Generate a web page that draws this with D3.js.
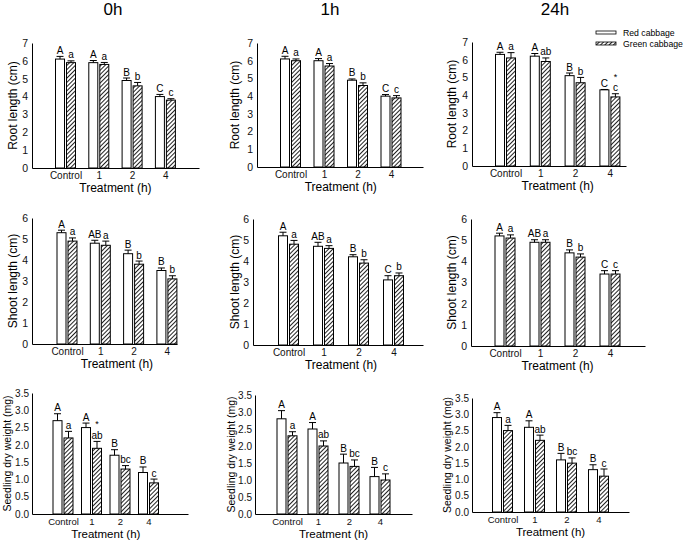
<!DOCTYPE html>
<html>
<head>
<meta charset="utf-8">
<script src="https://cdn.jsdelivr.net/npm/d3@7"></script>
<style>
  body { margin: 0; background: #fff; }
  text { font-family: "Liberation Sans", Arial, sans-serif; }
</style>
</head>
<body>
<div id="chart"></div>
<script>
// data

const categories = ["Control", "1", "2", "4"];
const times = ["0h", "1h", "24h"];
const seriesNames = ["Red cabbage", "Green cabbage"];
const yTitles = ["Root length (cm)", "Shoot length (cm)", "Seedling dry weight (mg)"];
const yMax = [7, 6, 3.5];
const yStep = [1, 1, 0.5];

// one inner array per time: 0h, 1h, 24h
const rootRed = [[6.1, 5.9, 4.9, 4.0], [6.1, 6.0, 4.9, 4.0], [6.3, 6.2, 5.1, 4.3]];
const rootRedErr = [[0.15, 0.12, 0.14, 0.12], [0.15, 0.12, 0.07, 0.09], [0.12, 0.15, 0.15, 0.02]];
const rootGreen = [[5.9, 5.8, 4.6, 3.8], [6.0, 5.7, 4.6, 3.9], [6.1, 5.9, 4.7, 3.9]];
const rootGreenErr = [[0.1, 0.11, 0.19, 0.08], [0.1, 0.14, 0.15, 0.13], [0.3, 0.2, 0.3, 0.18]];
const rootRedLetters = [["A", "A", "B", "C"], ["A", "A", "B", "C"], ["A", "A", "B", "C"]];
const rootGreenLetters = [["a", "a", "b", "c"], ["a", "a", "b", "c"], ["a", "ab", "b", "c"]];
const rootStars = [[0, 0, 0, 0], [0, 0, 0, 0], [0, 0, 0, 1]];

const shootRed = [[5.3, 4.8, 4.3, 3.5], [5.2, 4.7, 4.2, 3.1], [5.2, 4.9, 4.4, 3.4]];
const shootRedErr = [[0.12, 0.14, 0.17, 0.12], [0.17, 0.19, 0.1, 0.2], [0.13, 0.12, 0.14, 0.16]];
const shootGreen = [[4.9, 4.7, 3.8, 3.1], [4.8, 4.6, 3.9, 3.3], [5.1, 4.9, 4.2, 3.4]];
const shootGreenErr = [[0.15, 0.2, 0.15, 0.15], [0.18, 0.13, 0.16, 0.13], [0.15, 0.12, 0.15, 0.16]];
const shootRedLetters = [["A", "AB", "B", "B"], ["A", "AB", "B", "C"], ["A", "AB", "B", "C"]];
const shootGreenLetters = [["a", "a", "b", "b"], ["a", "a", "b", "b"], ["a", "a", "b", "c"]];
const shootStars = [[0, 0, 0, 0], [0, 0, 0, 0], [0, 0, 0, 0]];

const dryRed = [[2.7, 2.5, 1.7, 1.2], [2.8, 2.5, 1.5, 1.1], [2.9, 2.6, 1.6, 1.3]];
const dryRedErr = [[0.2, 0.13, 0.16, 0.16], [0.24, 0.19, 0.26, 0.27], [0.15, 0.2, 0.2, 0.15]];
const dryGreen = [[2.2, 1.9, 1.3, 0.9], [2.3, 2.0, 1.4, 1.0], [2.5, 2.2, 1.5, 1.1]];
const dryGreenErr = [[0.19, 0.2, 0.1, 0.11], [0.12, 0.15, 0.19, 0.18], [0.16, 0.16, 0.16, 0.22]];
const dryRedLetters = [["A", "A", "B", "B"], ["A", "A", "B", "B"], ["A", "A", "B", "B"]];
const dryGreenLetters = [["a", "ab", "bc", "c"], ["a", "ab", "bc", "c"], ["a", "ab", "bc", "c"]];
const dryStars = [[0, 1, 0, 0], [0, 0, 0, 0], [0, 0, 0, 0]];

const rowsData = [
  [rootRed, rootRedErr, rootGreen, rootGreenErr, rootRedLetters, rootGreenLetters, rootStars],
  [shootRed, shootRedErr, shootGreen, shootGreenErr, shootRedLetters, shootGreenLetters, shootStars],
  [dryRed, dryRedErr, dryGreen, dryGreenErr, dryRedLetters, dryGreenLetters, dryStars]
];

// panel placement (the panels were pasted together by hand, so they differ a little)
const layout = [
  { left: 32, top: 43, bottom: 168, first: 65.5, step: 33.3, right: 199, tx: 17 },
  { left: 257, top: 43, bottom: 167, first: 290.5, step: 33.5, right: 423, tx: 239 },
  { left: 472, top: 42, bottom: 166, first: 505.5, step: 34.8, right: 626, tx: 456 },
  { left: 32, top: 218, bottom: 344, first: 67, step: 33.3, right: 177, tx: 17 },
  { left: 253, top: 219, bottom: 345, first: 288.5, step: 35, right: 423, tx: 239 },
  { left: 471, top: 219, bottom: 346, first: 505, step: 35, right: 645, tx: 456 },
  { left: 32, top: 393, bottom: 514, first: 63, step: 28.5, right: 188, tx: 10.5 },
  { left: 255, top: 395, bottom: 514, first: 287, step: 31, right: 412, tx: 235 },
  { left: 472, top: 398, bottom: 512, first: 502.5, step: 32, right: 629, tx: 451 }
];
const colCenters = [113, 330, 555];

const svg = d3.select("#chart")
  .append("svg")
    .attr("width", 685)
    .attr("height", 542);

// hatch for green cabbage
const pat = svg.append("defs").append("pattern")
    .attr("id", "hatch")
    .attr("patternUnits", "userSpaceOnUse")
    .attr("width", 3)
    .attr("height", 3)
    .attr("patternTransform", "rotate(45)");
pat.append("rect").attr("width", 3).attr("height", 3).attr("fill", "#fff");
pat.append("line")
    .attr("x1", 0.5).attr("y1", 0).attr("x2", 0.5).attr("y2", 3)
    .attr("stroke", "#222").attr("stroke-width", 1);

// column titles
svg.selectAll(".coltitle")
  .data(times)
  .enter().append("text")
    .attr("x", (d, i) => colCenters[i])
    .attr("y", 15)
    .attr("text-anchor", "middle")
    .attr("font-size", 17)
    .text(d => d);

function drawPanel(r, c) {
  const L = layout[r * 3 + c];
  const [red, redErr, green, greenErr, redLet, greenLet, stars] = rowsData[r];
  const small = r === 2;

  const x = d3.scaleLinear()
      .domain([(L.left - L.first) / L.step, (L.right - L.first) / L.step])
      .range([L.left, L.right]);
  const y = d3.scaleLinear()
      .domain([0, yMax[r]])
      .range([L.bottom, L.top]);

  const g = svg.append("g");

  // y-axis
  const ya = g.append("g")
      .attr("transform", `translate(${L.left},0)`)
      .call(d3.axisLeft(y)
        .tickValues(d3.range(0, yMax[r] + 1e-9, yStep[r]))
        .tickSize(0)
        .tickPadding(small ? 3 : 4)
        .tickFormat(small ? d3.format(".1f") : d3.format("d")));
  ya.attr("font-family", null).attr("font-size", small ? 10 : 10.5);
  ya.select(".domain").attr("stroke", "#000");
  ya.selectAll("text").attr("fill", "#111");

  // x-axis
  const xa = g.append("g")
      .attr("transform", `translate(0,${L.bottom})`)
      .call(d3.axisBottom(x)
        .tickValues([0, 1, 2, 3])
        .tickSize(0)
        .tickPadding(4)
        .tickFormat(i => categories[i]));
  xa.attr("font-family", null).attr("font-size", small ? 9.5 : 10);
  xa.select(".domain").attr("stroke", "#000");
  xa.selectAll("text").attr("fill", "#111");

  // axis titles
  g.append("text")
      .attr("x", x(1.5))
      .attr("y", L.bottom + 24)
      .attr("text-anchor", "middle")
      .attr("font-size", small ? 11.5 : 12)
      .text("Treatment (h)");
  g.append("text")
      .attr("transform", `translate(${L.tx},${(L.top + L.bottom) / 2}) rotate(-90)`)
      .attr("text-anchor", "middle")
      .attr("font-size", small ? 10.5 : 12)
      .text(yTitles[r]);

  // bars, error bars and letters
  const bars = [];
  categories.forEach((cat, i) => {
    bars.push({ cx: x(i) - 5.5, v: red[c][i], e: redErr[c][i], lab: redLet[c][i], star: 0, fill: "#fff" });
    bars.push({ cx: x(i) + 5.5, v: green[c][i], e: greenErr[c][i], lab: greenLet[c][i], star: stars[c][i], fill: "url(#hatch)" });
  });

  const bw = 9;
  g.selectAll(".bar")
    .data(bars)
    .enter().append("rect")
      .attr("x", d => d.cx - bw / 2)
      .attr("y", d => y(d.v))
      .attr("width", bw)
      .attr("height", d => y(0) - y(d.v))
      .attr("fill", d => d.fill)
      .attr("stroke", "#000")
      .attr("stroke-width", 1);

  g.selectAll(".err")
    .data(bars)
    .enter().append("path")
      .attr("d", d => `M${d.cx},${y(d.v)}V${y(d.v + d.e)}M${d.cx - 3.5},${y(d.v + d.e)}H${d.cx + 3.5}`)
      .attr("stroke", "#000")
      .attr("stroke-width", 1)
      .attr("fill", "none");

  g.selectAll(".lab")
    .data(bars)
    .enter().append("text")
      .attr("x", d => d.cx)
      .attr("y", d => y(d.v + d.e) - 2.5)
      .attr("text-anchor", "middle")
      .attr("font-size", 10)
      .text(d => d.lab);

  g.selectAll(".star")
    .data(bars.filter(d => d.star))
    .enter().append("text")
      .attr("x", d => d.cx)
      .attr("y", d => y(d.v + d.e) - 14)
      .attr("text-anchor", "middle")
      .attr("font-size", 9)
      .text("*");
}

for (let r = 0; r < 3; r++) {
  for (let c = 0; c < 3; c++) drawPanel(r, c);
}

// legend
const legend = svg.append("g");
seriesNames.forEach((name, i) => {
  legend.append("rect")
      .attr("x", 596)
      .attr("y", 31 + i * 11)
      .attr("width", 20)
      .attr("height", 3)
      .attr("fill", i === 0 ? "#fff" : "url(#hatch)")
      .attr("stroke", "#000")
      .attr("stroke-width", 0.8);
  legend.append("text")
      .attr("x", 623)
      .attr("y", 32.5 + i * 11)
      .attr("dy", "0.35em")
      .attr("font-size", 8.7)
      .text(name);
});
</script>
</body>
</html>
